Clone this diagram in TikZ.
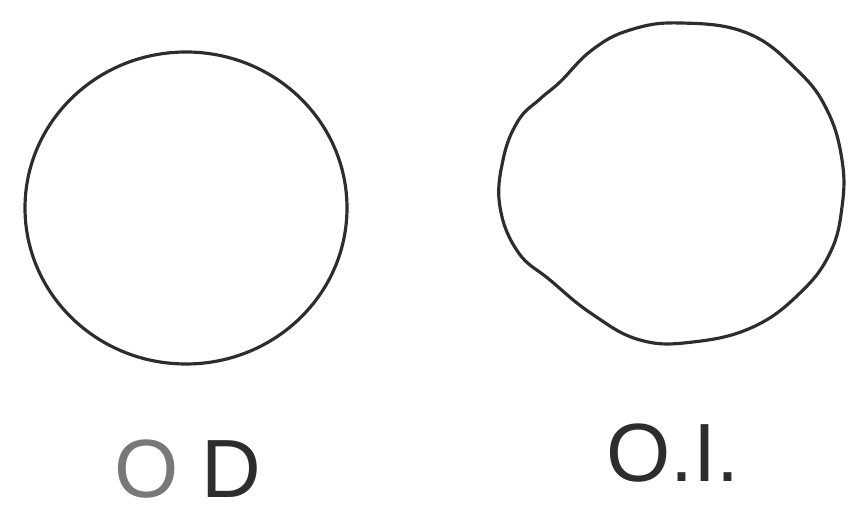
\documentclass[tikz,border=0pt]{standalone}
\usepackage{fontspec}
\setmainfont{Liberation Sans}
\usetikzlibrary{positioning}
\definecolor{ink}{RGB}{45,45,45}
\definecolor{faint}{RGB}{120,120,120}

\begin{document}
\begin{tikzpicture}[x=0.01cm, y=-0.01cm,
    outline/.style={draw=ink, line width=0.9pt},
    lbl/.style={text=ink, font=\fontsize{23.5}{28}\selectfont, inner sep=0pt}]
    \useasboundingbox (0,0) rectangle (857,513);
    % left eye
    \draw[outline] (186,208) ellipse [x radius=161, y radius=156];
    % right eye, slightly uneven
    \draw[outline] plot[smooth cycle, tension=0.7] coordinates {
        (680,23) (747,33) (797,70) (827,110) (842,160) (842,207)
        (830,253) (800,293) (753,327) (693,342) (640,340) (592,314)
        (550,280) (518,252) (500,207) (503,160) (518,121) (540,99)
        (560,82) (592,50) (630,30)};
    % labels
    \node[lbl] (od) at (188,469) {{\color{faint}O} D};
    \node[lbl] (oi) at (673,453) {O.I.};
\end{tikzpicture}
\end{document}
